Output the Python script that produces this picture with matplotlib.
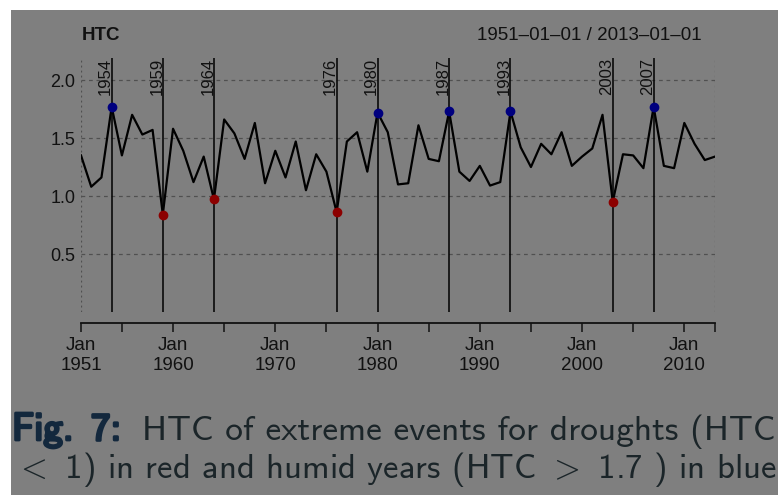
import matplotlib.pyplot as plt
import matplotlib.patheffects as pe
from matplotlib.patches import Rectangle

plt.rcParams['font.family'] = ['Liberation Sans', 'DejaVu Sans']
plt.rcParams['mathtext.fontset'] = 'cm'

# annual HTC values, Jan 1951 .. Jan 2013
years = list(range(1951, 2014))
htc = [1.35, 1.08, 1.16, 1.77, 1.35, 1.70, 1.53, 1.57, 0.84, 1.58,
       1.39, 1.12, 1.34, 0.97, 1.66, 1.54, 1.32, 1.63, 1.11, 1.39,
       1.16, 1.47, 1.05, 1.36, 1.21, 0.86, 1.47, 1.55, 1.21, 1.72,
       1.55, 1.10, 1.11, 1.61, 1.32, 1.30, 1.73, 1.21, 1.13, 1.26,
       1.09, 1.12, 1.73, 1.42, 1.25, 1.45, 1.36, 1.55, 1.26, 1.34,
       1.41, 1.70, 0.95, 1.36, 1.35, 1.24, 1.77, 1.26, 1.24, 1.63,
       1.45, 1.31, 1.34]

drought_years = [1959, 1964, 1976, 2003]
humid_years = [1954, 1980, 1987, 1993, 2007]

ytick_vals = [0.5, 1.0, 1.5, 2.0]
ytick_labels = ['0.5', '1.0', '1.5', '2.0']
major_years = [1951, 1960, 1970, 1980, 1990, 2000, 2010, 2013]
major_labels = ['Jan\n1951', 'Jan\n1960', 'Jan\n1970', 'Jan\n1980',
                'Jan\n1990', 'Jan\n2000', 'Jan\n2010', '']
minor_years = [1955, 1965, 1975, 1985, 1995, 2005]

W, H = 778, 495
BG = '#7f7f7f'
INK = '#111111'

fig = plt.figure(figsize=(W / 100, H / 100), dpi=100, facecolor='white')
# grey page area, white strip on top and left
fig.patches.append(Rectangle((11 / W, 0), 1, 1 - 10 / H, transform=fig.transFigure,
                             facecolor=BG, edgecolor='none', zorder=-10))

ax = fig.add_axes([81 / W, 1 - 312 / H, (715 - 81) / W, (312 - 58) / H])
ax.set_facecolor('none')
ymax = 2.19
ax.set_xlim(1951, 2013)
ax.set_ylim(0, ymax)

ax.yaxis.grid(True, linestyle=(0, (3, 3)), color='#505050', lw=0.9)
ax.set_axisbelow(True)
for x0 in (1951, 2013):
    ax.axvline(x0, ls=(0, (1.5, 2.5)), color='#505050', lw=0.9, zorder=1)

ax.plot(years, htc, color='black', lw=1.6, zorder=3)

events = sorted(drought_years + humid_years)
ax.vlines(events, 0, ymax, color='black', lw=1.1, zorder=2)
for yr in events:
    ax.text(yr + 0.15, ymax, str(yr), rotation=90, ha='right', va='top',
            fontsize=12, color=INK)

d_vals = [htc[years.index(y)] for y in drought_years]
h_vals = [htc[years.index(y)] for y in humid_years]
ax.plot(drought_years, d_vals, 'o', color='#8c0000', ms=6, zorder=4)
ax.plot(humid_years, h_vals, 'o', color='#00007f', ms=6, zorder=4)

for s in ('left', 'right', 'top'):
    ax.spines[s].set_visible(False)
ax.spines['bottom'].set_position(('outward', 8))
ax.spines['bottom'].set_bounds(1951, 2013)
ax.spines['bottom'].set_linewidth(1.3)
ax.spines['bottom'].set_color(INK)

ax.set_xticks(major_years)
ax.set_xticklabels(major_labels, fontsize=13.5, color=INK)
ax.set_xticks(minor_years, minor=True)
ax.tick_params(axis='x', which='both', direction='out', length=6.5, width=1.1,
               color=INK, pad=3.5)

ax.set_yticks(ytick_vals)
ax.set_yticklabels(ytick_labels, fontsize=13, color=INK)
ax.tick_params(axis='y', length=0, pad=4)

fig.text(82 / W, 1 - 40.5 / H, 'HTC', fontsize=13.5, fontweight='bold',
         color=INK, va='baseline', ha='left')
fig.text(702 / W, 1 - 40.5 / H, '1951\u201301\u201301 / 2013\u201301\u201301',
         fontsize=13.5, color=INK, va='baseline', ha='right')

# caption (runs off the right edge, as in the source slide)
cap_blue = '#13283d'
cap_ink = '#1b2529'
cap_font = ['cmss10', 'DejaVu Sans']
bold = [pe.withStroke(linewidth=2.0, foreground=cap_blue)]
fig.text(12 / W, 1 - 440 / H, 'Fig.', family=cap_font, fontsize=28,
         color=cap_blue, va='baseline', path_effects=bold)
fig.text(91 / W, 1 - 440 / H, '7:', family=cap_font, fontsize=28,
         color=cap_blue, va='baseline', path_effects=bold)
fig.text(142 / W, 1 - 440 / H, 'HTC of extreme events for droughts (HTC',
         family=cap_font, fontsize=25.5, color=cap_ink, va='baseline')
fig.text(14 / W, 1 - 478 / H,
         r'$<$ 1) in red and humid years (HTC $>$ 1.7 ) in blue',
         family=cap_font, fontsize=25, color=cap_ink, va='baseline')

fig.savefig('out.png', dpi=100, facecolor=fig.get_facecolor())
